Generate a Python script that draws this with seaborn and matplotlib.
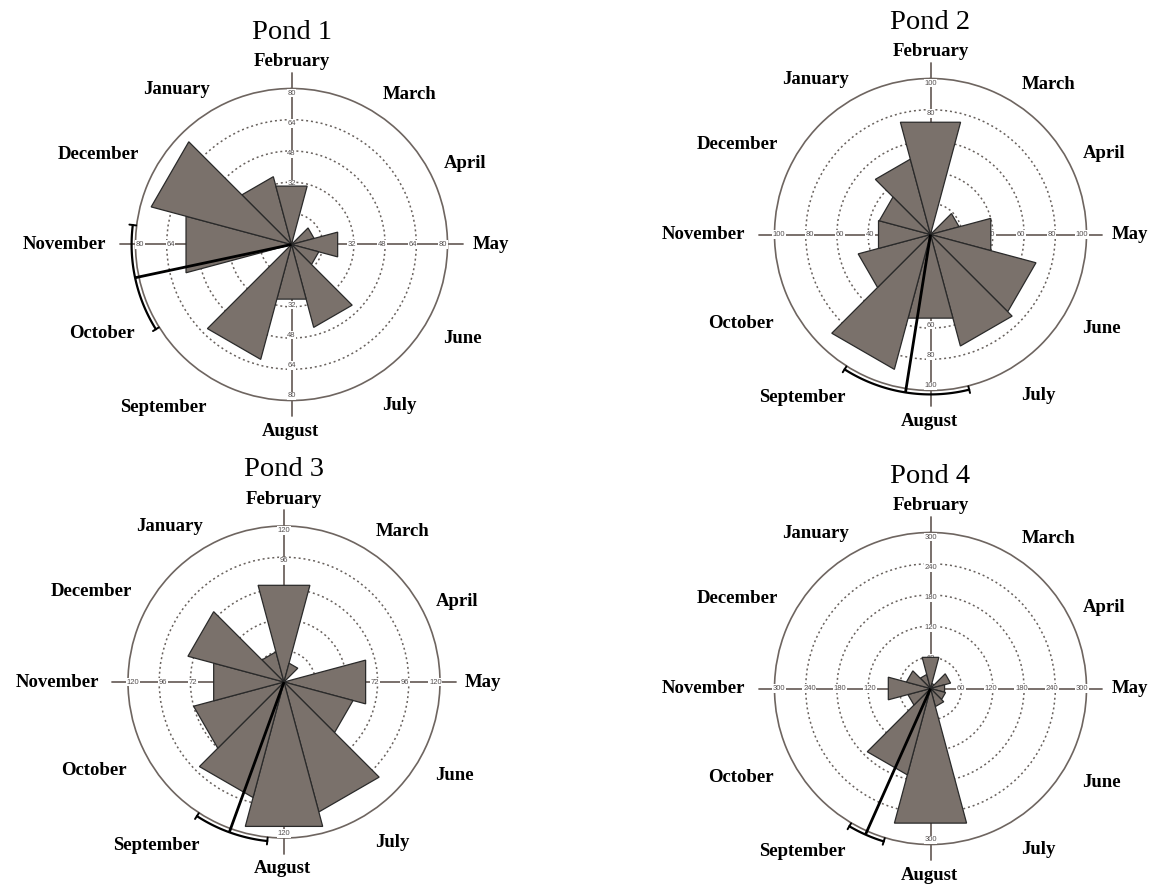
import numpy as np
import pandas as pd
import matplotlib
matplotlib.use("Agg")
import matplotlib.pyplot as plt
import seaborn as sns

# ---- data -------------------------------------------------------------
months = ["January", "February", "March", "April", "May", "June", "July",
          "August", "September", "October", "November", "December"]
ponds = ["Pond 1", "Pond 2", "Pond 3", "Pond 4"]

pond1_counts = [36, 31, 0, 12, 24.5, 14.5, 44, 29, 61, 0, 56, 74.5]
pond2_counts = [50, 74.5, 0, 19, 40, 70, 74, 55.5, 89.5, 48, 34.5, 34]
pond3_counts = [24, 77, 15, 0, 65, 55, 103.5, 115, 92, 72, 56, 76.5]
pond4_counts = [28, 62, 10, 40, 28, 30, 36, 268, 172, 45, 84, 48]

scale_max = [80, 100, 120, 300]
ring_step = [16, 20, 24, 60]

# mean vector direction and its confidence interval (degrees clockwise from February)
mean_dir = [258, 189, 200, 204]
ci_low = [238, 166, 186, 197]
ci_high = [277, 212.5, 213, 210.5]

# ---- styling / layout ---------------------------------------------------
FIG_W, FIG_H = 1159, 896
RADIUS_PX = 156
centers_px = [(291.5, 244.5), (930.5, 234.5), (284.0, 682.0), (930.5, 688.5)]

# month label centres, in units of the outer-circle radius
label_offsets = {
    "January": (-0.734, 0.994), "February": (0.0, 1.173), "March": (0.760, 0.962),
    "April": (1.112, 0.519), "May": (1.276, 0.0), "June": (1.093, -0.600),
    "July": (0.692, -1.032), "August": (-0.01, -1.196), "September": (-0.819, -1.045),
    "October": (-1.218, -0.568), "November": (-1.455, 0.0), "December": (-1.237, 0.579),
}

WEDGE_FACE = "#7a716b"
WEDGE_EDGE = "#2a2a2a"
AXIS_COLOR = "#6e6560"
RING_COLOR = "#68615d"
SERIF = ["Liberation Serif", "DejaVu Serif"]
SANS = ["Liberation Sans", "DejaVu Sans"]

sns.set_theme(style="white")

records = []
for pond, counts in zip(ponds, [pond1_counts, pond2_counts, pond3_counts, pond4_counts]):
    for m, c in zip(months, counts):
        records.append({"pond": pond, "month": m, "count": c})
df = pd.DataFrame(records)

month_angle = {m: ((i - 1) * 30) % 360 for i, m in enumerate(months)}


def draw_rose(data, color=None, label=None, **kws):
    ax = plt.gca()
    k = ponds.index(data["pond"].iloc[0])
    top = scale_max[k]
    step = ring_step[k]

    ax.set_theta_zero_location("N")
    ax.set_theta_direction(-1)
    ax.set_ylim(0, top)
    ax.set_facecolor("white")

    rings = np.arange(step, top, step)
    ax.set_yticks(rings)
    ax.set_yticklabels([])
    ax.set_xticks([])
    ax.xaxis.grid(False)
    ax.yaxis.grid(True, color=RING_COLOR, linestyle=(0, (1.3, 1.9)), linewidth=1.1)
    ax.spines["polar"].set_color(AXIS_COLOR)
    ax.spines["polar"].set_linewidth(1.2)

    # cross-hair axes with scale values
    for deg in (0, 90, 180, 270):
        th = np.deg2rad(deg)
        ax.plot([th, th], [0, 1.1 * top], color=AXIS_COLOR, lw=1.3,
                clip_on=False, zorder=2)
        for v in list(rings) + [top]:
            ax.text(th, v * 0.97, f"{v:g}", fontsize=5.5, family=SANS, color="#555050",
                    ha="center", va="center", zorder=3,
                    bbox=dict(facecolor="white", edgecolor="none", pad=0.5))

    # straight-edged rose wedges, 30 degrees wide
    half = np.deg2rad(15)
    for m, v in zip(data["month"], data["count"]):
        if v <= 0:
            continue
        th = np.deg2rad(month_angle[m])
        ax.fill([0, th - half, th + half], [0, v, v], facecolor=WEDGE_FACE,
                edgecolor=WEDGE_EDGE, linewidth=0.9, zorder=4)

    # mean vector with confidence arc
    rb = 1.025 * top
    md = np.deg2rad(mean_dir[k])
    ax.plot([md, md], [0, rb], color="black", lw=2.0, clip_on=False, zorder=6,
            solid_capstyle="butt")
    arc = np.deg2rad(np.linspace(ci_low[k], ci_high[k], 80))
    ax.plot(arc, np.full_like(arc, rb), color="black", lw=1.6, clip_on=False, zorder=6)
    for a in (ci_low[k], ci_high[k]):
        ax.plot([np.deg2rad(a)] * 2, [rb - 0.022 * top, rb + 0.022 * top],
                color="black", lw=1.4, clip_on=False, zorder=6)

    # month names around the rose
    for m in months:
        dx, dy = label_offsets[m]
        ax.text(0.5 + dx / 2, 0.5 + dy / 2, m, transform=ax.transAxes,
                ha="center", va="center", fontsize=13.5, fontweight="bold",
                family=SERIF, color="black", clip_on=False)

    # pond title
    ax.text(0.5, 0.5 + 1.32 / 2, data["pond"].iloc[0], transform=ax.transAxes,
            ha="center", va="baseline", fontsize=20.5, family=SERIF, color="black")


g = sns.FacetGrid(df, col="pond", col_order=ponds, col_wrap=2, height=4,
                  sharex=False, sharey=False, despine=False,
                  subplot_kws={"projection": "polar"})
g.map_dataframe(draw_rose)

fig = g.figure
fig.set_size_inches(FIG_W / 100, FIG_H / 100)
fig.patch.set_facecolor("white")
for ax, (cx, cy) in zip(g.axes.flat, centers_px):
    ax.set_title("")
    ax.set_xlabel("")
    ax.set_ylabel("")
    ax.set_position([(cx - RADIUS_PX) / FIG_W, (FIG_H - cy - RADIUS_PX) / FIG_H,
                     2 * RADIUS_PX / FIG_W, 2 * RADIUS_PX / FIG_H])

fig.savefig("out.png", dpi=100, facecolor="white")
